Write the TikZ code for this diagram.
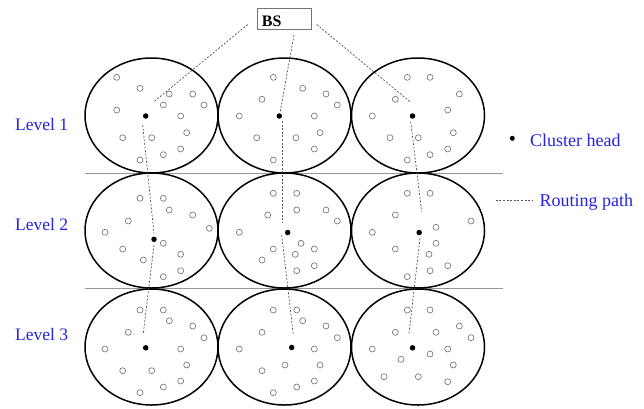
\documentclass[tikz,border=0pt]{standalone}
\usepackage{fontspec}
\setmainfont{Liberation Serif}
\definecolor{lvlblue}{RGB}{35,35,225}
\definecolor{sensorgray}{RGB}{125,125,125}
\definecolor{routegray}{RGB}{85,85,85}
\definecolor{rulegray}{RGB}{150,150,150}
\begin{document}
\begin{tikzpicture}[x=1pt,y=-1pt,
  cluster/.style={draw=black,line width=1.5pt},
  sensor/.style={draw=sensorgray,line width=0.7pt},
  head/.style={circle,fill=black,inner sep=0pt,minimum size=5.5pt},
  route/.style={draw=routegray,line width=0.7pt,dash pattern=on 2pt off 1.6pt},
  levelrule/.style={draw=rulegray,line width=0.9pt},
  lvltext/.style={anchor=base west,inner sep=0pt,text=lvlblue,font=\fontsize{17.5}{20}\selectfont},
  legtext/.style={anchor=base west,inner sep=0pt,text=lvlblue,font=\fontsize{18}{21}\selectfont},
  bsbox/.style={draw=black!55,line width=0.8pt,minimum width=54.4pt,minimum height=20.7pt,inner sep=0pt},
  bstext/.style={anchor=base west,inner sep=0pt,font=\fontsize{16}{18}\selectfont\bfseries}]
\useasboundingbox (0,0) rectangle (644,408);

% level separators
\coordinate (ra1) at (85,173); \coordinate (rb1) at (503,173);
\coordinate (ra2) at (85,288); \coordinate (rb2) at (503,288);
\draw[levelrule] (ra1) -- (rb1);
\draw[levelrule] (ra2) -- (rb2);

% clusters
\foreach \cx in {151.5,284.5,418}{
  \draw[cluster] (\cx,115.5) ellipse [x radius=66.5pt,y radius=57.5pt];
  \draw[cluster] (\cx,230.5) ellipse [x radius=66.5pt,y radius=57.5pt];
  \draw[cluster] (\cx,347) ellipse [x radius=66.5pt,y radius=58pt];
}

% sensors
\foreach \x/\y in {
 116.7/77.3,140/88.3,169.3/94,192.7/94,204/105,163.3/105,116.7/110,180.7/116,186.7/132.7,122.7/137.7,151.7/137.7,180.7/149,163.3/154.7,140/160,
 273.3/77.3,302.7/88.3,326/94,337.3/105,262/99.3,239.3/116,314.3/116,320/132.7,256.7/137.7,296/137.7,314.3/149,273.3/160,
 407.3/77.3,430/77.3,459.3/94,395.3/99.3,447.7/110,372.3/116,453.3/132.7,390/137.7,418.3/137.7,447.7/149,430/154.7,407.3/160,
 140/198.3,163.3/198.3,169.3/210,192.7/215,128.3/221,209.3/228.3,105/232.3,163.3/243.3,122.7/249,180.7/254.3,143.3/260,180.7/270.7,163.3/276.7,
 273.3/193.3,296.7/193.3,296.7/210,326/210,267.7/215,337.3/221,239.3/232.3,301/243.3,273.3/249,314.3/249,295.3/254.3,262/260,314.3/265.7,296.7/270.7,
 407.3/193.3,430/193.3,395.3/215,471/221,372.3/232.3,436/227.3,436/243.3,395.3/249,429/254.3,447.7/265.7,430/270.7,407.3/276.7,
 140/310,163.3/310,169.3/320.7,192.7/326,128.3/332.3,204/337.7,105/349,180.7/349,186.7/365,122.7/370.7,151.7/370.7,180.7/381,163.3/387,140/392.7,
 273.3/310,296.7/310,302.7/320.7,326/326,262/332.3,337.3/337.7,239.3/349,314.3/349,285/365,320/365,262/370.7,314.3/381,296.7/387,273.3/392.7,
 407.3/310,430/310,459.3/326,395.3/332.3,436/332.3,471/337.7,372.3/349,447.7/349,430/354,401/359.3,453.3/365,384/376.7,418.3/376.7,447.7/381.7}
 \draw[sensor] (\x,\y) circle [radius=3pt];

% cluster heads
\node[head] (h11) at (145.7,116) {};
\node[head] (h12) at (279.3,116) {};
\node[head] (h13) at (412.5,116) {};
\node[head] (h21) at (154,239.3) {};
\node[head] (h22) at (287.7,232.5) {};
\node[head] (h23) at (419.2,232.5) {};
\node[head] (h31) at (145.7,347.8) {};
\node[head] (h32) at (291.7,347.5) {};
\node[head] (h33) at (412.5,347.8) {};

% base station
\node[bsbox] (bs) at (284.5,18.7) {};
\node[bstext] (bslabel) at (261.7,26) {BS};

% routing path end points
\coordinate (bl0) at (247.7,24.5); \coordinate (bl1) at (154,101.7);
\coordinate (bm0) at (294,35);     \coordinate (bm1) at (280,113);
\coordinate (br0) at (316.7,24.5); \coordinate (br1) at (410,101.7);
\coordinate (p1a) at (142.7,125);  \coordinate (p1b) at (154,233.5);
\coordinate (p1c) at (154,245);    \coordinate (p1d) at (143.3,333.3);
\coordinate (p2a) at (282.3,121);  \coordinate (p2b) at (282.3,223.3);
\coordinate (p2c) at (281.7,235);  \coordinate (p2d) at (293.3,335);
\coordinate (p3a) at (410.7,121.7);\coordinate (p3b) at (421.7,211.7);
\coordinate (p3c) at (420,238.3);  \coordinate (p3d) at (409,333.3);

\draw[route] (bl0) -- (bl1);
\draw[route] (bm0) -- (bm1);
\draw[route] (br0) -- (br1);
\draw[route] (p1a) -- (p1b);
\draw[route] (p1c) -- (p1d);
\draw[route] (p2a) -- (p2b);
\draw[route] (p2c) -- (p2d);
\draw[route] (p3a) -- (p3b);
\draw[route] (p3c) -- (p3d);

% level labels
\node[lvltext] (lv1) at (15,130) {Level 1};
\node[lvltext] (lv2) at (15,230.7) {Level 2};
\node[lvltext] (lv3) at (15,340.7) {Level 3};

% legend
\node[head,minimum size=5pt] (legdot) at (512.3,138.3) {};
\node[legtext] (legch) at (530,146.7) {Cluster head};
\coordinate (lg0) at (495.7,200.7); \coordinate (lg1) at (532.3,200.7);
\draw[route] (lg0) -- (lg1);
\node[legtext] (legrp) at (539.3,206) {Routing path};
\end{tikzpicture}
\end{document}
